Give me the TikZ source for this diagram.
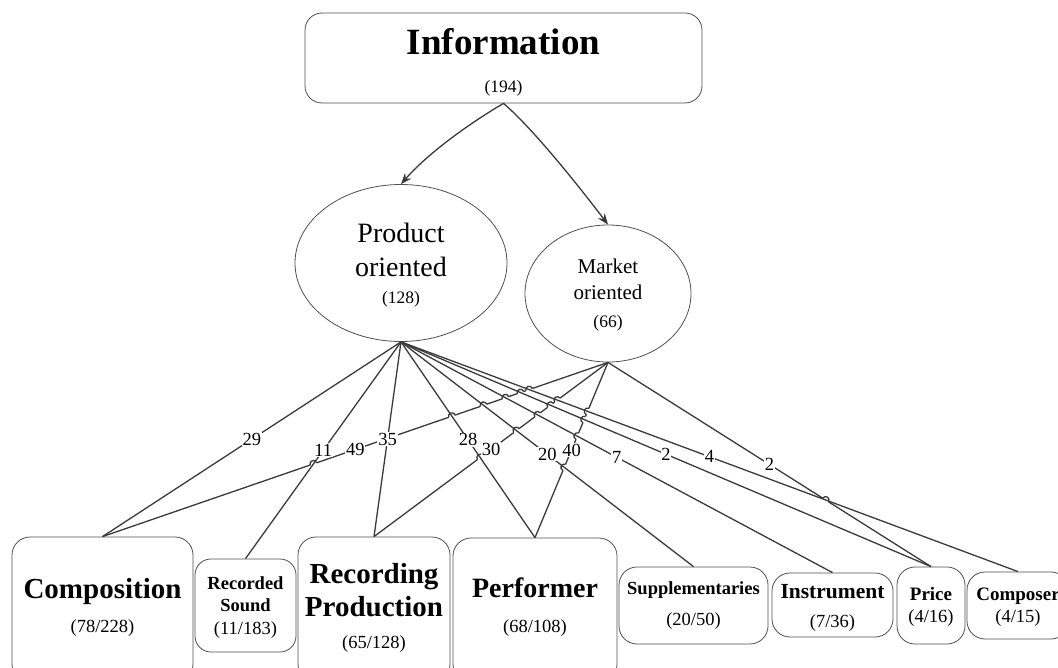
\documentclass[tikz,border=0pt]{standalone}
\usepackage{fontspec}
\setmainfont{Liberation Serif}
\usetikzlibrary{arrows.meta,intersections,shapes.geometric}
\definecolor{edgecol}{HTML}{3A3A3A}
\definecolor{outlinecol}{HTML}{505050}
\tikzset{
  edgeline/.style={draw=edgecol, line width=1.3pt},
  box/.style={draw=outlinecol, line width=0.8pt, rounded corners=18pt, inner sep=0pt},
  oval/.style={draw=outlinecol, line width=0.8pt, ellipse, inner sep=0pt},
  lbl/.style={fill=white, inner sep=0.8pt, text=black, font=\fontsize{18.5}{18.5}\selectfont},
  ttl/.style={anchor=base, inner sep=0pt, text=black, font=\fontsize{#1}{#1}\selectfont\bfseries},
  txt/.style={anchor=base, inner sep=0pt, text=black, font=\fontsize{#1}{#1}\selectfont},
  tip/.style={-{Stealth[length=11pt,width=8.5pt]}}
}
\newcommand{\hopgap}[2]{\begin{scope}[shift={(#1)},rotate=#2,x=1pt,y=1pt]\draw[white,line width=3pt](-3.2,0)--(3.2,0);\end{scope}}
\newcommand{\hoparc}[2]{\begin{scope}[shift={(#1)},rotate=#2,x=1pt,y=1pt]\draw[edgeline](-3.4,0) arc[start angle=180,end angle=0,radius=3.4];\end{scope}}
\newcommand{\dohops}[1]{%
  \foreach \p in {pRecS,pPerf,pSupp,pInst,pPrice,pCompr}{\path[name intersections={of=mComp and \p, by=hx}]; #1{hx}{19.1}}%
  \foreach \p in {pPerf,pSupp,pInst,pPrice,pCompr}{\path[name intersections={of=mRecP and \p, by=hx}]; #1{hx}{36.8}}%
  \foreach \p in {pSupp,pInst,pPrice,pCompr}{\path[name intersections={of=mPerf and \p, by=hx}]; #1{hx}{67.5}}%
  \foreach \p in {pCompr}{\path[name intersections={of=mPrice and \p, by=hx}]; #1{hx}{-32.4}}%
}
\begin{document}
\begin{tikzpicture}[x=1pt,y=-1pt]
\useasboundingbox (0,0) rectangle (1058,668);

% top
\node[box, rounded corners=17pt, minimum width=397pt, minimum height=90pt] (info) at (503.5,58) {};
\node[ttl=37] (infoT) at (503.5,55) {Information};
\node[txt=17.5] (infoN) at (503.5,93) {(194)};

% ellipses
\node[oval, minimum width=212pt, minimum height=157pt] (prod) at (401,263) {};
\node[txt=28] (prodT1) at (401,243) {Product};
\node[txt=28] (prodT2) at (401,277) {oriented};
\node[txt=17.5] (prodN) at (401,304) {(128)};

\node[oval, minimum width=166pt, minimum height=137pt] (mkt) at (608,293.5) {};
\node[txt=21] (mktT1) at (608,274) {Market};
\node[txt=21] (mktT2) at (608,300) {oriented};
\node[txt=17.5] (mktN) at (608,328) {(66)};

% bottom boxes
\node[box, minimum width=181pt, minimum height=145pt] (comp) at (102.5,609.5) {};
\node[ttl=29] (compT) at (102.5,598) {Composition};
\node[txt=18.5] (compN) at (102.5,632) {(78/228)};

\node[box, rounded corners=16pt, minimum width=101pt, minimum height=93pt] (recs) at (245.5,605.5) {};
\node[ttl=18.5] (recsT1) at (245.5,589) {Recorded};
\node[ttl=18.5] (recsT2) at (245.5,611) {Sound};
\node[txt=18.5] (recsN) at (245.5,634) {(11/183)};

\node[box, minimum width=152pt, minimum height=145pt] (recp) at (374,609.5) {};
\node[ttl=29] (recpT1) at (374,583) {Recording};
\node[ttl=29] (recpT2) at (374,616) {Production};
\node[txt=18.5] (recpN) at (374,648) {(65/128)};

\node[box, minimum width=164pt, minimum height=144pt] (perf) at (535,610) {};
\node[ttl=28] (perfT) at (535,597) {Performer};
\node[txt=18.5] (perfN) at (535,632) {(68/108)};

\node[box, minimum width=149pt, minimum height=77pt] (supp) at (693.5,605.5) {};
\node[ttl=18.5] (suppT) at (693.5,594) {Supplementaries};
\node[txt=18.5] (suppN) at (693.5,625) {(20/50)};

\node[box, minimum width=121pt, minimum height=64pt] (inst) at (832.5,605) {};
\node[ttl=21.5] (instT) at (832.5,598) {Instrument};
\node[txt=18.5] (instN) at (832.5,627) {(7/36)};

\node[box, minimum width=68pt, minimum height=77pt] (price) at (931,605.5) {};
\node[ttl=19] (priceT) at (931,600) {Price};
\node[txt=18.5] (priceN) at (931,622) {(4/16)};

\node[box, minimum width=102pt, minimum height=67pt] (compr) at (1018,605.5) {};
\node[ttl=19] (comprT) at (1018,600) {Composer};
\node[txt=18.5] (comprN) at (1018,622) {(4/15)};

% arrows from Information
\draw[edgeline, tip] (info.south) .. controls (465,126) and (426,155.5) .. (prod.north);
\draw[edgeline, tip] (info.south) .. controls (533.5,129) and (581,189) .. (mkt.north);

% named product paths
\path[name path=pRecS] (prod.south) -- (recs.north);
\path[name path=pPerf] (prod.south) -- (perf.north);
\path[name path=pSupp] (prod.south) -- (supp.north);
\path[name path=pInst] (prod.south) -- (inst.north);
\path[name path=pPrice] (prod.south) -- (price.north);
\path[name path=pCompr] (prod.south) -- (compr.north);

% market lines
\draw[edgeline, name path=mComp] (mkt.south) -- (comp.north);
\draw[edgeline, name path=mRecP] (mkt.south) -- (recp.north);
\draw[edgeline, name path=mPerf] (mkt.south) -- (perf.north);
\draw[edgeline, name path=mPrice] (mkt.south) -- (price.north);

\dohops{\hopgap}

% product lines
\draw[edgeline] (prod.south) -- (comp.north);
\draw[edgeline] (prod.south) -- (recs.north);
\draw[edgeline] (prod.south) -- (recp.north);
\draw[edgeline] (prod.south) -- (perf.north);
\draw[edgeline] (prod.south) -- (supp.north);
\draw[edgeline] (prod.south) -- (inst.north);
\draw[edgeline] (prod.south) -- (price.north);
\draw[edgeline] (prod.south) -- (compr.north);

\dohops{\hoparc}

% labels
\path (prod.south) -- node[lbl] (l29) {29} (comp.north);
\path (prod.south) -- node[lbl] (l11) {11} (recs.north);
\path (prod.south) -- node[lbl] (l35) {35} (recp.north);
\path (prod.south) -- node[lbl] (l28) {28} (perf.north);
\path (prod.south) -- node[lbl] (l20) {20} (supp.north);
\path (prod.south) -- node[lbl] (l7) {7} (inst.north);
\path (prod.south) -- node[lbl] (l2p) {2} (price.north);
\path (prod.south) -- node[lbl] (l4) {4} (compr.north);
\path (mkt.south) -- node[lbl] (l49) {49} (comp.north);
\path (mkt.south) -- node[lbl] (l30) {30} (recp.north);
\path (mkt.south) -- node[lbl] (l40) {40} (perf.north);
\path (mkt.south) -- node[lbl] (l2m) {2} (price.north);
\end{tikzpicture}
\end{document}
